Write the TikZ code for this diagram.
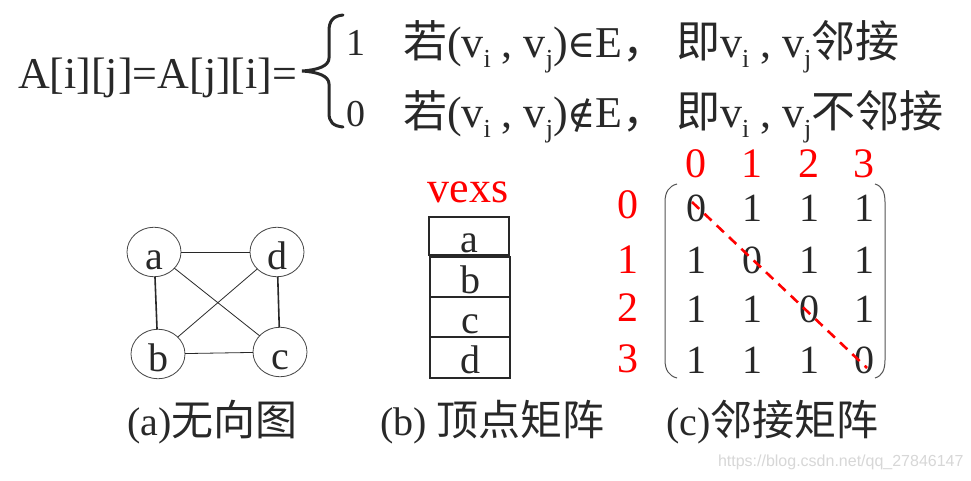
\documentclass[tikz,border=0pt]{standalone}
\usepackage{fontspec}
\setmainfont{Liberation Serif}
\newfontfamily\cjkf{Noto Sans CJK SC}
\newfontfamily\symf{DejaVu Serif}
\newfontfamily\wmf{Liberation Sans}
\usetikzlibrary{shapes.geometric,calc}
\definecolor{ink}{RGB}{40,40,40}
\definecolor{wmgray}{RGB}{215,215,215}
\definecolor{hired}{RGB}{255,0,0}
\newcommand\FS[1]{\fontsize{#1}{#1}\selectfont}
\newcommand\zh[1]{{\cjkf #1}}
\newcommand\sbs[1]{\raisebox{-0.22em}{\FS{26}#1}}
\tikzset{
  every node/.style={inner sep=0pt, outer sep=0pt, text=ink},
  bigtxt/.style={font=\FS{44}, anchor=base west},
  casenum/.style={font=\FS{38}, anchor=base west},
  gnode/.style={ellipse, draw=ink!85, line width=0.8pt, minimum width=54pt, minimum height=48pt, font=\FS{40}, text height=35pt, text depth=0pt},
  vbox/.style={rectangle, draw=ink, line width=1.3pt, minimum width=80pt, font=\FS{40}, text height=32pt, text depth=0pt},
  reddigit/.style={font=\FS{42}, text=hired},
  matdigit/.style={font=\FS{40}},
  captxt/.style={font=\FS{40}, anchor=base west},
  thinedge/.style={draw=ink, line width=0.8pt},
  thickedge/.style={draw=ink, line width=1.6pt}
}
\begin{document}
\begin{tikzpicture}[x=1pt,y=-1pt]
\useasboundingbox (0,0) rectangle (971,481);
\fill[white] (0,0) rectangle (971,481);

% formula
\node[bigtxt] (lhs) at (18,89) {A[i][j]=A[j][i]=};
\draw[ink, line width=3pt, line cap=round]
  (343,15) .. controls (333,16) and (329,21) .. (329,31) -- (329,58)
  .. controls (329,66) and (318,70) .. (302,71)
  .. controls (318,72) and (329,76) .. (329,84) -- (329,113)
  .. controls (329,122) and (333,126) .. (343,127);
\node[casenum] (one) at (346,56) {1};
\node[bigtxt] (c1a) at (403,58) {\zh{若}(v\sbs{i} , v\sbs{j}){\symf\FS{38}∈}E\zh{，}};
\node[bigtxt] (c1b) at (676,58) {\zh{即}v\sbs{i} , v\sbs{j}\zh{邻接}};
\node[casenum] (zero) at (346,127) {0};
\node[bigtxt] (c2a) at (403,128) {\zh{若}(v\sbs{i} , v\sbs{j}){\symf\FS{38}∉}E\zh{，}};
\node[bigtxt] (c2b) at (676,128) {\zh{即}v\sbs{i} , v\sbs{j}\zh{不邻接}};

% graph
\node[gnode] (a) at (154,252) {a};
\node[gnode] (d) at (277,252) {d};
\node[gnode] (b) at (158,354) {b};
\node[gnode] (c) at (280,352) {c};
\draw[thinedge] (a) -- (d);
\draw[thinedge] (b) -- (c);
\draw[thickedge] (a) -- (b);
\draw[thickedge] (d) -- (c);
\draw[thinedge] (a) -- (c);
\draw[thinedge] (d) -- (b);

% vexs
\node[font=\FS{44}, text=hired] (vexs) at (468,192.5) {vexs};
\node[vbox, minimum height=38pt] (v1) at (469,236) {a};
\node[vbox, minimum height=40pt] (v2) at (470,277) {b};
\node[vbox, minimum height=40pt] (v3) at (470,317) {c};
\node[vbox, minimum height=41pt] (v4) at (470,357.5) {d};

% matrix
\foreach \c/\x in {0/696,1/752,2/809,3/864}
  \node[reddigit] (h\c) at (\x,164) {\c};
\foreach \r/\y in {0/205,1/260,2/308,3/359}
  \node[reddigit] (r\r) at (628,\y) {\r};
\foreach \r/\y in {0/208,1/260,2/309,3/360}
  \foreach \c/\x in {0/696,1/752,2/809,3/864}
    \node[matdigit] (m\r\c) at (\x,\y) {\ifnum\r=\c\relax 0\else 1\fi};
\draw[ink!80, line width=1pt]
  (677,184) .. controls (669,186) and (665,192) .. (665,202) -- (665,360)
  .. controls (665,370) and (669,376) .. (677,378);
\draw[ink!80, line width=1pt]
  (875,184) .. controls (882,186) and (885,192) .. (885,202) -- (885,360)
  .. controls (885,370) and (882,376) .. (875,378);
\draw[hired, line width=2.6pt, dash pattern=on 10pt off 7pt]
  ($(m00.center)+(-4,-6)$) -- ($(m33.center)+(3,8)$);

% captions
\node[captxt] (capa) at (127,435) {(a)\zh{\FS{42}无向图}};
\node[captxt] (capb) at (380,435) {(b) \zh{\FS{42}顶点矩阵}};
\node[captxt] (capc) at (666,435) {(c)\zh{\FS{42}邻接矩阵}};

% watermark
\node[anchor=base west, font=\wmf\FS{16}, text=wmgray] (wm) at (718,466) {https://blog.csdn.net/qq\_27846147};
\end{tikzpicture}
\end{document}
